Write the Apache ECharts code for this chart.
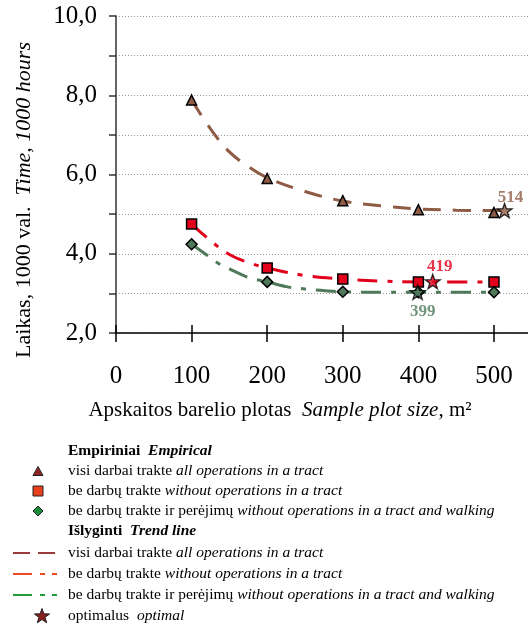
<!DOCTYPE html>
<html>
<head>
<meta charset="utf-8">
<title>Laikas pagal apskaitos barelio plotą</title>
<script src="https://cdn.jsdelivr.net/npm/echarts@6/dist/echarts.min.js"></script>
<style>
  html, body { margin: 0; padding: 0; background: #fff; }
  #chart { width: 528px; height: 625px; }
</style>
</head>
<body>
<div id="chart"></div>
<script>
// Sample plot sizes, m²
var plotSizes = [100, 200, 300, 400, 500];

// Empirical time, 1000 hours
var allOps = [7.88, 5.90, 5.34, 5.11, 5.04];          // visi darbai trakte
var noTractOps = [4.75, 3.64, 3.36, 3.29, 3.29];      // be darbų trakte
var noTractWalk = [4.24, 3.29, 3.04, 3.03, 3.03];     // be darbų trakte ir perėjimų

// Trend lines
var allOpsTrendX = [100, 125, 150, 175, 200, 250, 300, 350, 400, 450, 500, 514];
var allOpsTrendY = [7.88, 7.15, 6.57, 6.20, 5.92, 5.57, 5.33, 5.21, 5.13, 5.10, 5.09, 5.09];
var noTractTrendX = [100, 125, 150, 175, 200, 250, 300, 350, 400, 450, 500];
var noTractTrendY = [4.75, 4.33, 3.98, 3.78, 3.64, 3.45, 3.36, 3.31, 3.29, 3.29, 3.29];
var noWalkTrendX = [100, 120, 135, 150, 175, 200, 225, 250, 275, 300, 350, 400, 450, 500];
var noWalkTrendY = [4.24, 3.97, 3.76, 3.62, 3.40, 3.29, 3.17, 3.11, 3.07, 3.04, 3.03, 3.03, 3.03, 3.03];

// Optimal plot sizes
var optimalX = [514, 419, 399];
var optimalY = [5.09, 3.30, 3.03];

// Axis ticks
var xTicks = [0, 100, 200, 300, 400, 500];
var yTicks = [2, 4, 6, 8, 10];

var BROWN = '#8e5b45', RED = '#e2001a', GREEN = '#4e7a5b';
var SERIF = '"Liberation Serif", "Times New Roman", serif';

function pairs(xs, ys) { return xs.map(function (x, i) { return [x, ys[i]]; }); }

// five-pointed star outline in a 20x19 box
var STAR_PTS = [[10, 0], [12.35, 6.76], [19.51, 6.91], [13.8, 11.24], [15.88, 18.09],
                [10, 14], [4.12, 18.09], [6.2, 11.24], [0.49, 6.91], [7.65, 6.76]];
var STAR = 'path://M' + STAR_PTS.map(function (p) { return p[0] + ',' + p[1]; }).join(' L') + ' Z';

var chart = echarts.init(document.getElementById('chart'), null, { renderer: 'canvas' });

var optColors = [BROWN, RED, GREEN];
var optLabels = [
  { position: 'top', offset: [6, 8] },
  { position: 'top', offset: [7, 6] },
  { position: 'bottom', offset: [5, -2] }
];

var option = {
  animation: false,
  backgroundColor: '#fff',
  grid: { left: 116, top: 16, right: 0, bottom: 292, containLabel: false },
  xAxis: [{
    type: 'value', min: 0, max: 545, interval: 100,
    axisLine: { show: true, lineStyle: { color: '#000', width: 1.5 } },
    axisTick: { show: true, inside: false, length: 9, lineStyle: { color: '#000', width: 1.5 }, customValues: xTicks },
    axisLabel: {
      margin: 31, fontFamily: SERIF, fontSize: 25, color: '#000', customValues: xTicks,
      formatter: function (v) { return v % 100 === 0 ? String(v) : ''; }
    },
    splitLine: { show: false }
  }, {
    type: 'value', min: 0, max: 545, interval: 100, position: 'bottom',
    axisLine: { show: false },
    axisTick: { show: true, inside: true, length: 8, lineStyle: { color: '#000', width: 1.5 }, customValues: xTicks },
    axisLabel: { show: false },
    splitLine: { show: false }
  }],
  yAxis: {
    type: 'value', min: 2, max: 10, interval: 1,
    axisLine: { show: true, lineStyle: { color: '#333', width: 1.5 } },
    axisTick: { show: true, inside: false, length: 7, lineStyle: { color: '#333', width: 1.5 } },
    axisLabel: {
      margin: 19, fontFamily: SERIF, fontSize: 25, color: '#000',
      formatter: function (v) { return yTicks.indexOf(v) >= 0 ? v.toFixed(1).replace('.', ',') : ''; }
    },
    splitLine: { show: true, lineStyle: { color: '#999', width: 1, type: [1, 2] } }
  },
  series: [
    {
      name: 'allOpsTrend', type: 'line', smooth: 0.35, showSymbol: false, symbol: 'none',
      data: pairs(allOpsTrendX, allOpsTrendY), z: 2,
      lineStyle: { color: BROWN, width: 3, type: [18, 12] }
    },
    {
      name: 'noTractTrend', type: 'line', smooth: 0.35, showSymbol: false, symbol: 'none',
      data: pairs(noTractTrendX, noTractTrendY), z: 2,
      lineStyle: { color: RED, width: 3, type: [20, 10, 5, 10] }
    },
    {
      name: 'noWalkTrend', type: 'line', smooth: 0.35, showSymbol: false, symbol: 'none',
      data: pairs(noWalkTrendX, noWalkTrendY), z: 2,
      lineStyle: { color: GREEN, width: 3, type: [20, 10, 5, 10] }
    },
    {
      name: 'allOps', type: 'scatter', symbol: 'triangle', symbolSize: [10, 10], z: 3,
      data: pairs(plotSizes, allOps),
      itemStyle: { color: BROWN, borderColor: '#000', borderWidth: 1.5, opacity: 1 }
    },
    {
      name: 'noTract', type: 'scatter', symbol: 'rect', symbolSize: 10, z: 3,
      data: pairs(plotSizes, noTractOps),
      itemStyle: { color: RED, borderColor: '#000', borderWidth: 1.5, opacity: 1 }
    },
    {
      name: 'noWalk', type: 'scatter', symbol: 'diamond', symbolSize: 11, z: 3,
      data: pairs(plotSizes, noTractWalk),
      itemStyle: { color: GREEN, borderColor: '#000', borderWidth: 1.5, opacity: 1 }
    },
    {
      name: 'optimal', type: 'scatter', symbol: STAR, symbolSize: 15, symbolKeepAspect: true, z: 4,
      data: optimalX.map(function (x, i) {
        return {
          value: [x, optimalY[i]],
          itemStyle: { color: optColors[i], borderColor: '#000', borderWidth: 1.3 },
          label: {
            show: true, position: optLabels[i].position, offset: optLabels[i].offset,
            formatter: String(x), color: optColors[i],
            fontFamily: SERIF, fontSize: 17, fontWeight: 'bold'
          }
        };
      })
    }
  ],
  graphic: []
};

// Axis titles
var g = option.graphic;
g.push({
  type: 'text', x: 24, y: 200, rotation: Math.PI / 2, z: 10,
  style: {
    text: '{r|Laikas, 1000 val.  }{i|Time, 1000 hours}',
    textAlign: 'center', textVerticalAlign: 'middle', align: 'center', verticalAlign: 'middle',
    rich: {
      r: { fontFamily: SERIF, fontSize: 22, fill: '#000', color: '#000' },
      i: { fontFamily: SERIF, fontSize: 22, fontStyle: 'italic', fill: '#000', color: '#000' }
    }
  }
});
g.push({
  type: 'text', x: 280, y: 410, z: 10,
  style: {
    text: '{r|Apskaitos barelio plotas  }{i|Sample plot size}{r|, m²}',
    textAlign: 'center', textVerticalAlign: 'middle', align: 'center', verticalAlign: 'middle',
    rich: {
      r: { fontFamily: SERIF, fontSize: 21, fill: '#000', color: '#000' },
      i: { fontFamily: SERIF, fontSize: 21, fontStyle: 'italic', fill: '#000', color: '#000' }
    }
  }
});

// Legend block
var LF = 15.5;
var richLeg = {
  r: { fontFamily: SERIF, fontSize: LF, color: '#000', fill: '#000' },
  i: { fontFamily: SERIF, fontSize: LF, fontStyle: 'italic', color: '#000', fill: '#000' },
  b: { fontFamily: SERIF, fontSize: LF, fontWeight: 'bold', color: '#000', fill: '#000' },
  bi: { fontFamily: SERIF, fontSize: LF, fontWeight: 'bold', fontStyle: 'italic', color: '#000', fill: '#000' }
};
function legText(y, txt) {
  g.push({
    type: 'text', x: 68, y: y, z: 10,
    style: { text: txt, textVerticalAlign: 'middle', verticalAlign: 'middle', rich: richLeg }
  });
}
function legSym(cx, cy, pts, w, h, color) {
  // pts given in a unit box, centred on (cx, cy)
  g.push({
    type: 'polygon', z: 10,
    shape: { points: pts.map(function (p) { return [cx - w / 2 + p[0] * w, cy - h / 2 + p[1] * h]; }) },
    style: { fill: color, stroke: '#222', lineWidth: 1 }
  });
}
function legLine(y, segs, color) {
  segs.forEach(function (s) {
    g.push({
      type: 'line', z: 10,
      shape: { x1: s[0], y1: y, x2: s[1], y2: y },
      style: { stroke: color, lineWidth: 2 }
    });
  });
}

legText(451, '{b|Empiriniai  }{bi|Empirical}');
legSym(38, 471, [[0.5, 0], [1, 1], [0, 1]], 10, 9, '#8e2424');
legText(471, '{r|visi darbai trakte }{i|all operations in a tract}');
legSym(38, 491, [[0, 0], [1, 0], [1, 1], [0, 1]], 10, 10, '#e8401c');
legText(491, '{r|be darbų trakte }{i|without operations in a tract}');
legSym(38, 511, [[0.5, 0], [1, 0.5], [0.5, 1], [0, 0.5]], 10, 10, '#1c8c3c');
legText(511, '{r|be darbų trakte ir perėjimų }{i|without operations in a tract and walking}');

legText(531, '{b|Išlyginti  }{bi|Trend line}');
legLine(553, [[13, 30], [38, 55]], '#9c3b3b');
legText(553, '{r|visi darbai trakte }{i|all operations in a tract}');
legLine(574, [[13, 32], [40, 45], [52, 57]], '#f04a25');
legText(574, '{r|be darbų trakte }{i|without operations in a tract}');
legLine(595, [[13, 32], [40, 45], [52, 57]], '#1f9a3c');
legText(595, '{r|be darbų trakte ir perėjimų }{i|without operations in a tract and walking}');
legSym(42, 616, STAR_PTS.map(function (p) { return [p[0] / 20, p[1] / 19]; }), 16, 15, '#8b1e1e');
legText(616, '{r|optimalus  }{i|optimal}');

chart.setOption(option);
</script>
</body>
</html>
